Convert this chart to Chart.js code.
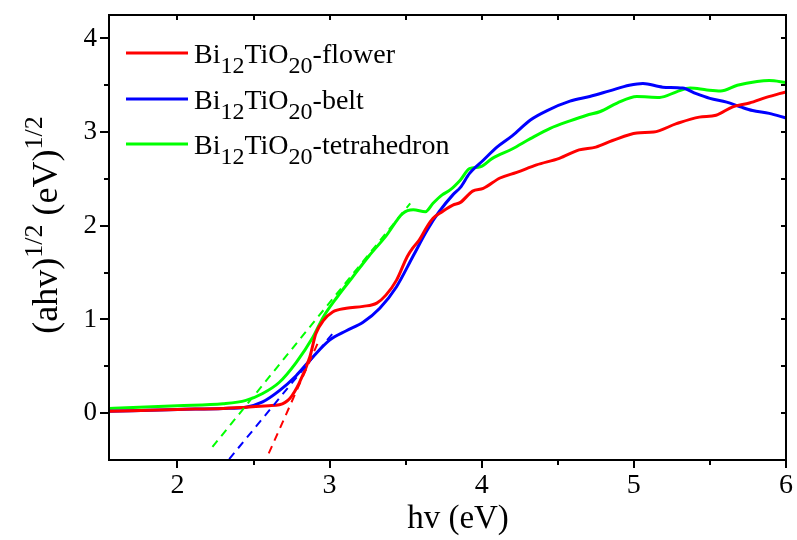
<!DOCTYPE html>
<html>
<head>
<meta charset="utf-8">
<script src="https://cdn.jsdelivr.net/npm/chart.js@4/dist/chart.umd.min.js"></script>
<style>
  html, body { margin: 0; padding: 0; background: #fff; }
  #wrap { width: 797px; height: 540px; }
</style>
</head>
<body>
<div id="wrap"><canvas id="chart" width="797" height="540"></canvas></div>
<script>
// datos
const xTicks = [2, 3, 4, 5, 6];
const yTicks = [0, 1, 2, 3, 4];
const seriesNames = ['flower', 'belt', 'tetrahedron'];
const seriesColors = ['#ff0000', '#0000ff', '#00ff00'];

const flowerX = [1.55, 2.0, 2.3, 2.45, 2.6, 2.67, 2.74, 2.80, 2.87, 2.91, 2.96, 3.02, 3.11, 3.22, 3.31, 3.37, 3.44, 3.51, 3.55, 3.59, 3.64, 3.68, 3.74, 3.81, 3.86, 3.94, 4.01, 4.12, 4.23, 4.36, 4.51, 4.64, 4.75, 4.86, 5.02, 5.13, 5.28, 5.43, 5.54, 5.65, 5.76, 5.87, 6.0];
const flowerY = [0.02, 0.04, 0.05, 0.064, 0.08, 0.09, 0.16, 0.32, 0.6, 0.85, 0.99, 1.08, 1.12, 1.14, 1.175, 1.26, 1.42, 1.67, 1.77, 1.85, 1.99, 2.08, 2.15, 2.22, 2.25, 2.37, 2.40, 2.51, 2.57, 2.65, 2.72, 2.81, 2.84, 2.91, 2.99, 3.00, 3.09, 3.16, 3.18, 3.27, 3.31, 3.37, 3.43];

const beltX = [1.55, 2.0, 2.3, 2.45, 2.56, 2.67, 2.78, 2.89, 3.0, 3.11, 3.22, 3.33, 3.44, 3.55, 3.64, 3.72, 3.81, 3.86, 3.92, 4.01, 4.10, 4.20, 4.32, 4.43, 4.58, 4.71, 4.84, 4.97, 5.06, 5.19, 5.32, 5.41, 5.50, 5.61, 5.70, 5.78, 5.89, 6.0];
const beltY = [0.02, 0.04, 0.05, 0.064, 0.12, 0.24, 0.40, 0.60, 0.78, 0.88, 0.97, 1.12, 1.35, 1.68, 1.95, 2.15, 2.33, 2.41, 2.56, 2.70, 2.84, 2.96, 3.13, 3.23, 3.33, 3.38, 3.44, 3.50, 3.52, 3.48, 3.47, 3.41, 3.36, 3.32, 3.27, 3.23, 3.20, 3.15];

const tetraX = [1.55, 2.0, 2.3, 2.45, 2.56, 2.67, 2.78, 2.89, 2.96, 3.05, 3.15, 3.26, 3.37, 3.48, 3.55, 3.63, 3.68, 3.74, 3.79, 3.86, 3.92, 3.99, 4.07, 4.20, 4.32, 4.45, 4.58, 4.69, 4.78, 4.89, 5.02, 5.17, 5.28, 5.37, 5.48, 5.57, 5.68, 5.81, 5.89, 6.0];
const tetraY = [0.05, 0.08, 0.10, 0.136, 0.21, 0.33, 0.54, 0.81, 1.03, 1.24, 1.45, 1.68, 1.89, 2.13, 2.17, 2.15, 2.24, 2.33, 2.38, 2.49, 2.61, 2.63, 2.72, 2.82, 2.93, 3.04, 3.12, 3.18, 3.22, 3.31, 3.38, 3.37, 3.43, 3.47, 3.45, 3.44, 3.50, 3.54, 3.55, 3.53];

// rectas tangentes (extremos)
const flowerFitX = [2.60, 2.92];
const flowerFitY = [-0.43, 0.74];
const beltFitX = [2.34, 3.02];
const beltFitY = [-0.49, 0.85];
const tetraFitX = [2.23, 3.53];
const tetraFitY = [-0.36, 2.24];

const SERIF = "'Liberation Serif', 'Times New Roman', serif";

function puntos(xs, ys) {
    return xs.map((x, i) => ({ x: x, y: ys[i] }));
}

function curva(xs, ys, color) {
    return {
        data: puntos(xs, ys),
        borderColor: color,
        borderWidth: 3,
        pointRadius: 0,
        fill: false,
        cubicInterpolationMode: 'monotone'
    };
}

function tangente(xs, ys, color) {
    return {
        data: puntos(xs, ys),
        borderColor: color,
        borderWidth: 2,
        borderDash: [8, 6],
        pointRadius: 0,
        fill: false
    };
}

// marco, ticks menores/mayores, titulos y leyenda con sub/superindices
const decoracion = {
    id: 'decoracion',
    afterDraw(chart) {
        const { ctx, chartArea: a, scales: { x, y } } = chart;
        ctx.save();
        ctx.strokeStyle = '#000';
        ctx.lineWidth = 2;
        ctx.strokeRect(a.left, a.top, a.right - a.left, a.bottom - a.top);

        ctx.beginPath();
        for (let v = 2; v <= 6; v += 0.5) {
            const px = Math.round(x.getPixelForValue(v));
            const mayor = v % 1 === 0;
            ctx.moveTo(px, a.bottom);
            ctx.lineTo(px, a.bottom + (mayor ? 8 : 5));
            ctx.moveTo(px, a.top);
            ctx.lineTo(px, a.top + 5);
        }
        for (let v = 0; v <= 4; v += 0.5) {
            const py = Math.round(y.getPixelForValue(v));
            const mayor = v % 1 === 0;
            ctx.moveTo(a.left, py);
            ctx.lineTo(a.left - (mayor ? 9 : 5), py);
            ctx.moveTo(a.right, py);
            ctx.lineTo(a.right - 5, py);
        }
        ctx.stroke();

        ctx.fillStyle = '#000';
        ctx.textBaseline = 'alphabetic';

        // titulo eje X
        ctx.textAlign = 'center';
        ctx.font = `33px ${SERIF}`;
        ctx.fillText('hv (eV)', 458, 528);

        // titulo eje Y
        ctx.textAlign = 'left';
        const partesY = [
            { t: '(ahv)', s: 36, dy: 0 },
            { t: '1/2', s: 26, dy: -15 },
            { t: ' (eV)', s: 36, dy: 0 },
            { t: '1/2', s: 26, dy: -15 }
        ];
        let total = 0;
        partesY.forEach(p => { ctx.font = `${p.s}px ${SERIF}`; p.w = ctx.measureText(p.t).width; total += p.w; });
        ctx.translate(57, 225);
        ctx.rotate(-Math.PI / 2);
        let cx = -total / 2;
        partesY.forEach(p => {
            ctx.font = `${p.s}px ${SERIF}`;
            ctx.fillText(p.t, cx, p.dy);
            cx += p.w;
        });
        ctx.setTransform(1, 0, 0, 1, 0, 0);

        // leyenda
        const filas = [53, 99, 144];
        seriesNames.forEach((nombre, i) => {
            const ly = filas[i];
            ctx.strokeStyle = seriesColors[i];
            ctx.lineWidth = 3;
            ctx.beginPath();
            ctx.moveTo(126, ly);
            ctx.lineTo(188, ly);
            ctx.stroke();
            const partes = [
                { t: 'Bi', s: 28, dy: 10 },
                { t: '12', s: 24, dy: 20 },
                { t: 'TiO', s: 28, dy: 10 },
                { t: '20', s: 24, dy: 20 },
                { t: '-' + nombre, s: 28, dy: 10 }
            ];
            let tx = 194;
            partes.forEach(p => {
                ctx.font = `${p.s}px ${SERIF}`;
                ctx.fillText(p.t, tx, ly + p.dy);
                tx += ctx.measureText(p.t).width;
            });
        });
        ctx.restore();
    }
};

new Chart(document.getElementById('chart'), {
    type: 'line',
    data: {
        datasets: [
            tangente(flowerFitX, flowerFitY, seriesColors[0]),
            tangente(beltFitX, beltFitY, seriesColors[1]),
            tangente(tetraFitX, tetraFitY, seriesColors[2]),
            curva(flowerX, flowerY, seriesColors[0]),
            curva(beltX, beltY, seriesColors[1]),
            curva(tetraX, tetraY, seriesColors[2])
        ]
    },
    options: {
        responsive: false,
        animation: false,
        layout: { padding: { top: 15, right: 11, left: 0, bottom: 0 } },
        plugins: {
            legend: { display: false },
            tooltip: { enabled: false }
        },
        scales: {
            x: {
                type: 'linear',
                min: 1.55,
                max: 6,
                afterBuildTicks: s => { s.ticks = xTicks.map(v => ({ value: v })); },
                afterFit: s => { s.height = 80; s.paddingLeft = 0; s.paddingRight = 0; },
                grid: { display: false, drawTicks: false },
                border: { display: false },
                ticks: {
                    padding: 9,
                    color: '#000',
                    font: { family: SERIF, size: 28 },
                    maxRotation: 0
                }
            },
            y: {
                type: 'linear',
                min: -0.5,
                max: 4.25,
                afterBuildTicks: s => { s.ticks = yTicks.map(v => ({ value: v })); },
                afterFit: s => { s.width = 109; s.paddingTop = 0; s.paddingBottom = 0; },
                grid: { display: false, drawTicks: false },
                border: { display: false },
                ticks: {
                    padding: 12,
                    color: '#000',
                    font: { family: SERIF, size: 27 }
                }
            }
        }
    },
    plugins: [decoracion]
});
</script>
</body>
</html>
